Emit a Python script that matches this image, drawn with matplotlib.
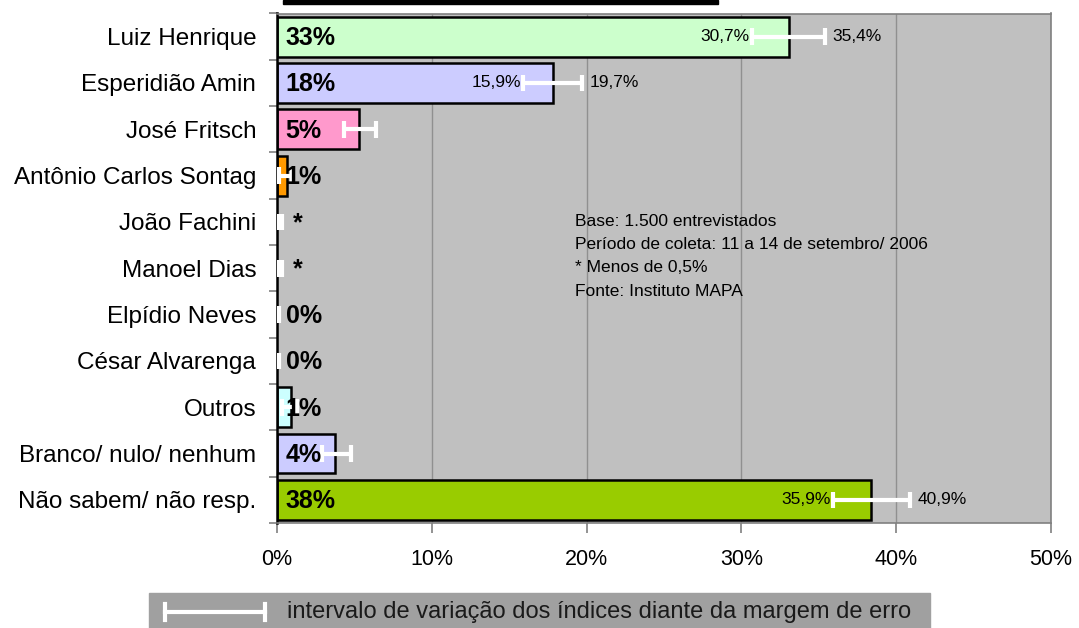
import matplotlib.pyplot as plt
import numpy as np
from matplotlib.patches import Rectangle
from matplotlib.lines import Line2D

plt.rcParams['font.family'] = ['Liberation Sans', 'DejaVu Sans']

# Dados da pesquisa (%)
candidatos = ['Luiz Henrique', 'Esperidião Amin', 'José Fritsch',
              'Antônio Carlos Sontag', 'João Fachini', 'Manoel Dias',
              'Elpídio Neves', 'César Alvarenga', 'Outros',
              'Branco/ nulo/ nenhum', 'Não sabem/ não resp.']
valores = [33.1, 17.8, 5.3, 0.65, 0.0, 0.0, 0.0, 0.0, 0.9, 3.75, 38.4]
rotulos = ['33%', '18%', '5%', '1%', '*', '*', '0%', '0%', '1%', '4%', '38%']
erro_min = [30.7, 15.9, 4.3, 0.1, 0.05, 0.05, 0.0, 0.0, 0.3, 2.9, 35.9]
erro_max = [35.4, 19.7, 6.4, 1.0, 0.35, 0.35, 0.15, 0.15, 1.3, 4.8, 40.9]
mostrar_limites = [True, True, False, False, False, False, False, False, False, False, True]
cores = ['#CCFFCC', '#CCCCFF', '#FF99CC', '#FF9900', '#C0C0C0', '#C0C0C0',
         '#C0C0C0', '#C0C0C0', '#CCFFFF', '#CCCCFF', '#99CC00']
eixo_x = [0, 10, 20, 30, 40, 50]

fig = plt.figure(figsize=(10.79, 6.28), dpi=100)
ax = fig.add_axes([277 / 1079, 1 - 523 / 628, 774 / 1079, 509.5 / 628])
ax.set_facecolor('#C0C0C0')

y = np.arange(len(candidatos))
for i in range(len(candidatos)):
    if valores[i] > 0:
        ax.barh(y[i], valores[i], height=0.86, color=cores[i],
                edgecolor='black', linewidth=1.8, zorder=2)

# intervalos de erro
ax.hlines(y, erro_min, erro_max, color='white', linewidth=3, zorder=3)
for i in range(len(candidatos)):
    for xv in (erro_min[i], erro_max[i]):
        if xv > 0:
            ax.plot([xv, xv], [y[i] - 0.18, y[i] + 0.18], color='white',
                    linewidth=3, solid_capstyle='butt', zorder=3)

# rótulos
for i in range(len(candidatos)):
    dx = 1.05 if rotulos[i] == '*' else 0.55
    ax.text(dx, y[i] + 0.03, rotulos[i], ha='left', va='center',
            fontsize=18, fontweight='bold', color='black', zorder=4)
    if mostrar_limites[i]:
        ax.text(erro_min[i] - 0.15, y[i], f"{erro_min[i]:.1f}%".replace('.', ','),
                ha='right', va='center', fontsize=12.5, zorder=4)
        ax.text(erro_max[i] + 0.5, y[i], f"{erro_max[i]:.1f}%".replace('.', ','),
                ha='left', va='center', fontsize=12.5, zorder=4)

ax.set_xlim(0, 50)
ax.set_ylim(len(candidatos) - 0.5, -0.5)
ax.set_xticks(eixo_x)
ax.set_xticklabels([f"{v}%" for v in eixo_x], fontsize=15.5)
ax.set_yticks(y)
ax.set_yticklabels(candidatos, fontsize=17.5)
ax.set_yticks(np.arange(len(candidatos) + 1) - 0.5, minor=True)
ax.tick_params(axis='y', which='major', length=0, pad=15)
ax.tick_params(axis='y', which='minor', length=6, color='#808080', width=1.2)
ax.tick_params(axis='x', length=7, color='#808080', width=1.2, pad=12)
ax.grid(axis='x', color='#909090', linewidth=1, zorder=0)
ax.set_axisbelow(True)
for lado in ['top', 'right', 'bottom']:
    ax.spines[lado].set_color('#808080')
    ax.spines[lado].set_linewidth(1.2)
ax.spines['left'].set_color('black')
ax.spines['left'].set_linewidth(1.8)

# nota
nota = ("Base: 1.500 entrevistados\n"
        "Período de coleta: 11 a 14 de setembro/ 2006\n"
        "* Menos de 0,5%\n"
        "Fonte: Instituto MAPA")
ax.text(19.25, 3.83, nota, ha='left', va='top', fontsize=12.5,
        linespacing=1.68, zorder=4)

# faixa do título (cortada)
fig.patches.append(Rectangle((283 / 1079, 1 - 3.5 / 628), 435 / 1079, 3.5 / 628,
                             transform=fig.transFigure, color='black'))

# legenda
fig.patches.append(Rectangle((149 / 1079, 0), 781 / 1079, 35 / 628,
                             transform=fig.transFigure, color='#A0A0A0'))
ly = 1 - 612 / 628
fig.lines.append(Line2D([165 / 1079, 265 / 1079], [ly, ly], transform=fig.transFigure,
                        color='white', linewidth=3))
for lx in (165, 265):
    fig.lines.append(Line2D([lx / 1079, lx / 1079], [ly - 8 / 628, ly + 8 / 628],
                            transform=fig.transFigure, color='white', linewidth=3))
fig.text(287 / 1079, ly, "intervalo de variação dos índices diante da margem de erro",
         ha='left', va='center', fontsize=17, color='#1a1a1a')

plt.savefig("out.png", dpi=100)
